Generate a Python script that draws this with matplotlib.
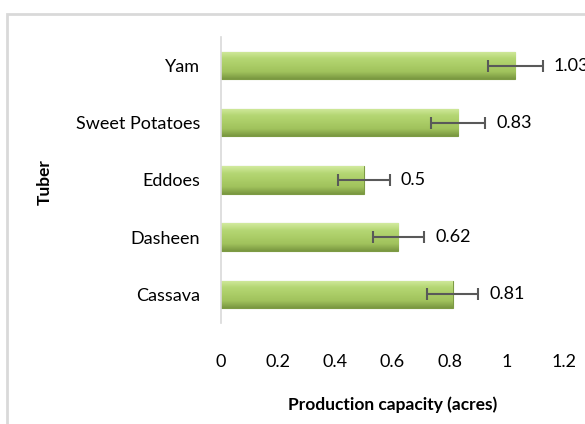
"""Horizontal bar chart of tuber production capacity with error bars."""

import matplotlib
matplotlib.use("Agg")
import matplotlib.pyplot as plt
import numpy as np
from matplotlib.colors import LinearSegmentedColormap
from matplotlib.patches import Rectangle

# Data (bottom to top)
tubers = ["Cassava", "Dasheen", "Eddoes", "Sweet Potatoes", "Yam"]
capacity = [0.81, 0.62, 0.50, 0.83, 1.03]
errors = [0.09, 0.09, 0.09, 0.095, 0.095]
value_labels = ["0.81", "0.62", "0.5", "0.83", "1.03"]
x_ticks = [0, 0.2, 0.4, 0.6, 0.8, 1.0, 1.2]
x_tick_labels = ["0", "0.2", "0.4", "0.6", "0.8", "1", "1.2"]

plt.rcParams["font.family"] = ["Lato", "DejaVu Sans"]

fig = plt.figure(figsize=(5.85, 4.24), dpi=100)
ax = fig.add_axes([0.378, 0.238, 0.586, 0.675])

# Excel chart border (cut off on the right and bottom)
fig.patches.append(Rectangle((7 / 585, -0.1), 1.2, 1 - 14 / 424 + 0.1,
                             transform=fig.transFigure, fill=False,
                             edgecolor="#d9d9d9", linewidth=2, zorder=0))

y = np.arange(len(tubers))
bars = ax.barh(y, capacity, height=0.48, color="#a8ca64",
               edgecolor="#7d9b44", linewidth=0.8, zorder=2)

# bevel-like vertical gradient on each bar
grad = LinearSegmentedColormap.from_list(
    "bevel", ["#7a9840", "#a0c25c", "#abcd67", "#b5d774", "#d2ea9e"])
for bar in bars:
    x0, y0 = bar.get_x(), bar.get_y()
    w, h = bar.get_width(), bar.get_height()
    img = ax.imshow(np.linspace(0, 1, 64).reshape(-1, 1), cmap=grad,
                    extent=[x0, x0 + w, y0, y0 + h], origin="lower",
                    aspect="auto", zorder=2.5)
    img.set_clip_path(bar)

ax.errorbar(capacity, y, xerr=errors, fmt="none", ecolor="#595959",
            elinewidth=1.5, capsize=4, capthick=1.5, zorder=3)

for yi, val, err, lab in zip(y, capacity, errors, value_labels):
    ax.annotate(lab, (val + err, yi), xytext=(8, 0), textcoords="offset points",
                ha="left", va="center", fontsize=13, color="black",
                annotation_clip=False)

ax.set_xlim(0, 1.2)
ax.set_ylim(-0.5, len(tubers) - 0.5)
ax.set_xticks(x_ticks)
ax.set_xticklabels(x_tick_labels, fontsize=13)
ax.set_yticks(y)
ax.set_yticklabels(tubers, fontsize=13)
ax.tick_params(axis="x", length=0, pad=22)
ax.tick_params(axis="y", length=0, pad=15)

for side in ["top", "right", "bottom"]:
    ax.spines[side].set_visible(False)
ax.spines["left"].set_color("#d9d9d9")
ax.spines["left"].set_linewidth(1.2)

ax.set_xlabel("Production capacity (acres)", fontsize=12.5, fontweight="bold",
              labelpad=19)
fig.text(45 / 585, 1 - 182 / 424, "Tuber", rotation=90, fontsize=12.5,
         fontweight="bold", ha="center", va="center")

fig.savefig("out.png", dpi=100)
